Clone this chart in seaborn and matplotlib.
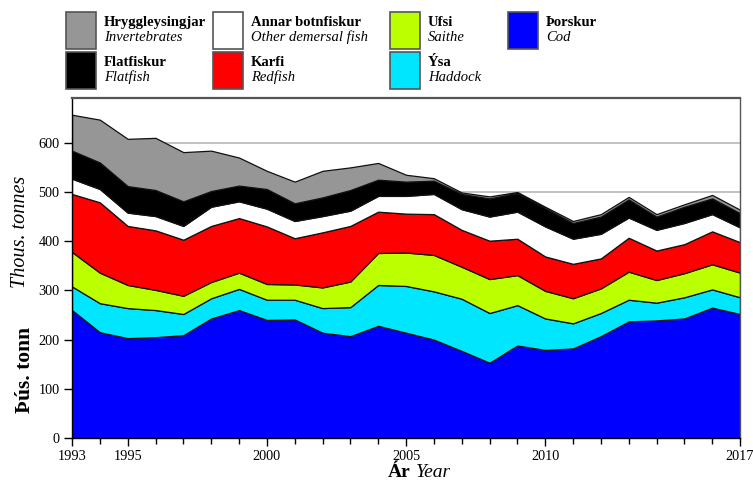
import numpy as np
import pandas as pd
import matplotlib
matplotlib.use("Agg")
import matplotlib.pyplot as plt
from matplotlib.patches import Rectangle
from matplotlib.ticker import MultipleLocator, FixedLocator
import seaborn as sns

years = list(range(1993, 2018))
cod = [260, 215, 203, 205, 209, 243, 260, 240, 241, 214, 207, 228, 214, 200, 177, 153, 188, 179, 182, 207, 237, 239, 243, 265, 252]
haddock = [48, 59, 61, 55, 43, 41, 43, 41, 40, 50, 59, 83, 95, 98, 106, 101, 82, 64, 51, 47, 44, 36, 43, 37, 34]
saithe = [70, 62, 47, 41, 37, 33, 33, 32, 31, 42, 52, 65, 68, 74, 65, 69, 61, 56, 51, 50, 57, 46, 49, 51, 50]
redfish = [118, 143, 120, 121, 114, 114, 111, 117, 94, 112, 113, 84, 79, 83, 75, 78, 74, 70, 70, 61, 69, 60, 59, 67, 62]
other_demersal = [31, 27, 27, 29, 28, 39, 34, 36, 35, 33, 31, 32, 36, 41, 42, 49, 55, 61, 51, 50, 41, 42, 43, 35, 30]
flatfish = [57, 54, 54, 53, 50, 32, 32, 40, 36, 38, 42, 33, 29, 27, 31, 37, 38, 37, 32, 35, 37, 27, 33, 32, 29]
invertebrates = [73, 87, 96, 106, 100, 82, 57, 37, 44, 54, 46, 34, 14, 5, 3, 4, 2, 3, 4, 5, 5, 5, 5, 7, 7]

series_is = ["Þorskur", "Ýsa", "Ufsi", "Karfi", "Annar botnfiskur", "Flatfiskur", "Hryggleysingjar"]
series_en = ["Cod", "Haddock", "Saithe", "Redfish", "Other demersal fish", "Flatfish", "Invertebrates"]
colors = ["#0000ff", "#00e6ff", "#bbff00", "#ff0000", "#ffffff", "#000000", "#969696"]

df = pd.DataFrame({"Year": years, "Þorskur": cod, "Ýsa": haddock, "Ufsi": saithe,
                   "Karfi": redfish, "Annar botnfiskur": other_demersal,
                   "Flatfiskur": flatfish, "Hryggleysingjar": invertebrates})

sns.set_style("ticks")
plt.rcParams["font.family"] = ["Liberation Serif", "DejaVu Serif"]
plt.rcParams["text.color"] = "black"

fig = plt.figure(figsize=(7.53, 4.84), dpi=100)
W, H = 753, 484
ax = fig.add_axes([72 / W, 1 - 438 / H, (740 - 72) / W, (438 - 98) / H])

ax.stackplot(df["Year"], *[df[c] for c in series_is], colors=colors,
             edgecolor="#111111", linewidth=0.9, zorder=2)

ax.set_xlim(1993, 2017)
ax.set_ylim(0, 691)
ax.yaxis.set_major_locator(MultipleLocator(100))
ax.xaxis.set_major_locator(FixedLocator([1993, 1995, 2000, 2005, 2010, 2017]))
ax.xaxis.set_minor_locator(MultipleLocator(1))
ax.set_axisbelow(True)
ax.yaxis.grid(True, color="#bdbdbd", linewidth=1.3, zorder=0)
ax.xaxis.grid(False)
ax.tick_params(axis="both", which="major", direction="out", length=6, width=1,
               labelsize=10.3, colors="black", pad=3)
ax.tick_params(axis="x", which="minor", direction="out", length=4, width=1, colors="black")
ax.tick_params(axis="x", which="major", pad=3)
for s in ["left", "bottom"]:
    ax.spines[s].set_color("black")
    ax.spines[s].set_linewidth(1.0)
ax.spines["top"].set_color("#555555")
ax.spines["top"].set_linewidth(1.6)
ax.spines["right"].set_color("#555555")
ax.spines["right"].set_linewidth(1.0)
ax.set_xlabel("")
ax.set_ylabel("")

# axis titles
fig.text(25 / W, 1 - 370 / H, "Þús. tonn", rotation=90, ha="center", va="center",
         fontsize=15.5, fontweight="bold", color="black")
fig.text(21 / W, 1 - 232 / H, "Thous. tonnes", rotation=90, ha="center", va="center",
         fontsize=14.5, fontstyle="italic", color="black")
fig.text(411 / W, 1 - 477 / H, "Ár", ha="right", va="baseline", fontsize=14,
         fontweight="bold", color="black")
fig.text(416 / W, 1 - 477 / H, "Year", ha="left", va="baseline", fontsize=14,
         fontstyle="italic", color="black")

# legend
legend_order = [
    (6, 66, 12), (5, 66, 52),
    (4, 213, 12), (3, 213, 52),
    (2, 390, 12), (1, 390, 52),
    (0, 508, 12),
]
for idx, x0, y0 in legend_order:
    rect = Rectangle((x0 / W, 1 - (y0 + 37) / H), 30 / W, 37 / H, transform=fig.transFigure,
                     facecolor=colors[idx], edgecolor="#555555", linewidth=1.2)
    fig.add_artist(rect)
    fig.text((x0 + 38) / W, 1 - (y0 + 14) / H, series_is[idx], ha="left", va="baseline",
             fontsize=10.5, fontweight="bold", color="black")
    fig.text((x0 + 38) / W, 1 - (y0 + 29) / H, series_en[idx], ha="left", va="baseline",
             fontsize=10.5, fontstyle="italic", color="black")

fig.savefig("out.png", dpi=100)
